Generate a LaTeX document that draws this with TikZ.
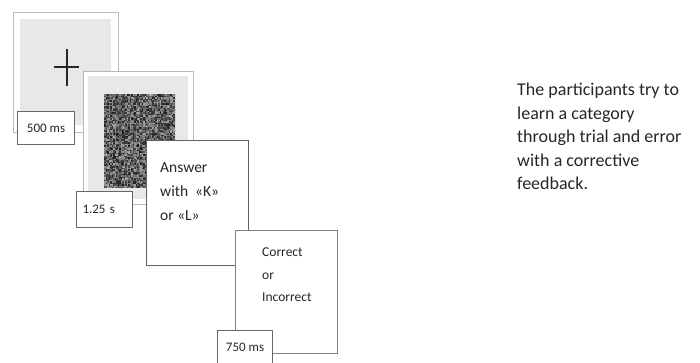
\documentclass[tikz,border=0pt]{standalone}
\usepackage{fontspec}
\setmainfont{Carlito}
\begin{document}
\begin{tikzpicture}[x=1pt,y=-1pt,
  frame/.style={draw=black!28, fill=white, line width=1.2pt, anchor=north west, inner sep=0pt},
  screen/.style={fill=black!9, anchor=north west, inner sep=0pt},
  card/.style={draw=black!62, fill=white, line width=1pt, anchor=north west, inner sep=0pt},
  lbl/.style={draw=black!60, fill=white, line width=1pt, anchor=north west, inner sep=0pt,
              font=\fontsize{13}{15}\selectfont, text=black!85},
  cardtext/.style={anchor=north west, align=left, inner sep=0pt, text=black!85}]
\useasboundingbox (0,0) rectangle (700,362);
% frame 1 : fixation cross
\node[frame, minimum width=105pt, minimum height=120pt] (f1) at (13,12) {};
\node[screen, minimum width=91pt, minimum height=106pt] (s1) at (20,19) {};
\draw[line width=1.8pt, black!85] (54,67) -- (79,67) (67,49) -- (67,86);
% frame 2 : noise mask
\node[frame, minimum width=110pt, minimum height=133pt] (f2) at (83,71) {};
\node[screen, minimum width=100pt, minimum height=123pt] (s2) at (88,76) {};
\pgfmathsetseed{4321}
\begin{scope}
\clip (104,94) rectangle (175,187);
\fill[black!60] (104,94) rectangle (175,187);
\foreach \i in {0,...,47}{
  \foreach \j in {0,...,62}{
    \pgfmathsetmacro\g{int(35+55*rnd)}
    \fill[black!\g] ({104+1.5*\i},{94+1.5*\j}) rectangle ++(1.5,1.5);
  }
}
\end{scope}
\node[lbl, minimum width=57pt, minimum height=33pt] (l1) at (17,111) {500 ms};
\node[lbl, minimum height=36pt, inner xsep=6pt, text width=44pt, align=left] (l2) at (76,191) {1.25 s};
% frame 3 : answer
\node[card, minimum width=102pt, minimum height=125pt] (f3) at (146,140) {};
\node[cardtext, font=\fontsize{15.5}{24}\selectfont] (t3) at (160,162) {Answer\\with~~«K»\\or «L»};
% frame 4 : feedback
\node[card, draw=black!50, minimum width=102pt, minimum height=123pt] (f4) at (235,230) {};
\node[cardtext, font=\fontsize{13.5}{22.5}\selectfont] (t4) at (262,248) {Correct\\or\\Incorrect};
\node[lbl, minimum width=55pt, minimum height=34pt] (l4) at (217,330) {750 ms};
% description
\node[anchor=north west, align=left, inner sep=0pt, text=black!85,
      font=\fontsize{18}{23.5}\selectfont] (desc) at (517,83)
  {The participants try to\\learn a category\\through trial and error\\with a corrective\\feedback.};
\end{tikzpicture}
\end{document}
